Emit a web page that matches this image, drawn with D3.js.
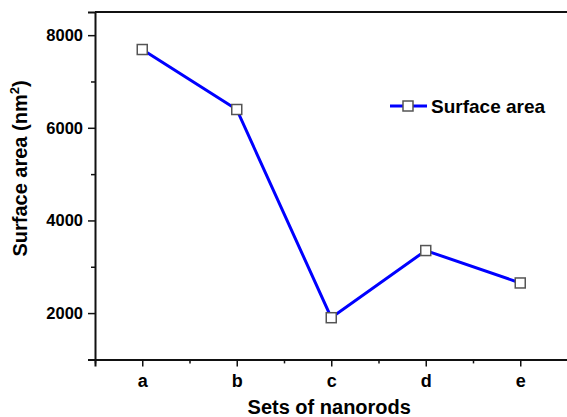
<!DOCTYPE html>
<html><head><meta charset="utf-8">
<script src="https://cdn.jsdelivr.net/npm/d3@7"></script>
<style>body{margin:0;background:#fff}svg{display:block}text{font-family:Arial,"Liberation Sans",sans-serif;font-weight:bold;fill:#000}</style>
</head><body>
<svg id="chart" width="567" height="417"></svg>
<script>
const categories = ["a","b","c","d","e"];
const surfaceArea = [7690, 6395, 1900, 3350, 2650];
const yTicks = [2000, 4000, 6000, 8000];
const yMinorTicks = [1000, 3000, 5000, 7000];
const seriesName = "Surface area";
const xTitle = "Sets of nanorods";

(function () {
const svg = d3.select("#chart");
const mL = 95, mR = 567.5, mT = 12, mB = 359.4;
const x = d3.scaleLinear().domain([0.5, 5.5]).range([mL, mR]);
const y = d3.scaleLinear().domain([1000, 8500]).range([mB, mT]);

// top frame line
svg.append("line").attr("x1", mL).attr("x2", 567).attr("y1", mT).attr("y2", mT)
  .attr("stroke", "#111").attr("stroke-width", 2);

// y axis
const yAxis = svg.append("g").attr("transform", `translate(${mL},0)`)
  .call(d3.axisLeft(y).tickValues(yTicks).tickSize(7).tickPadding(5).tickFormat(d3.format("d")));
yAxis.select(".domain").attr("stroke", "#111").attr("stroke-width", 2);
yAxis.selectAll(".tick line").attr("stroke", "#111").attr("stroke-width", 1.5);
yAxis.selectAll("text").style("font-size", "16.5px").style("font-weight", "bold").attr("fill", "#000");
const yMinor = svg.append("g").attr("transform", `translate(${mL},0)`)
  .call(d3.axisLeft(y).tickValues(yMinorTicks).tickSize(4).tickFormat(""));
yMinor.select(".domain").remove();
yMinor.selectAll(".tick line").attr("stroke", "#111").attr("stroke-width", 1.5);

// x axis
const xAxis = svg.append("g").attr("transform", `translate(0,${mB})`)
  .call(d3.axisBottom(x).tickValues(d3.range(1, categories.length + 1)).tickSize(7).tickPadding(8)
    .tickFormat(d => categories[d - 1]));
xAxis.select(".domain").attr("stroke", "#111").attr("stroke-width", 2);
xAxis.selectAll(".tick line").attr("stroke", "#111").attr("stroke-width", 1.5);
xAxis.selectAll("text").style("font-size", "18px").style("font-weight", "bold").attr("fill", "#000");
const xMinor = svg.append("g").attr("transform", `translate(0,${mB})`)
  .call(d3.axisBottom(x).tickValues(d3.range(0.5, categories.length + 1, 1)).tickSize(4).tickFormat(""));
xMinor.select(".domain").remove();
xMinor.selectAll(".tick line").attr("stroke", "#111").attr("stroke-width", 1.5);

// titles
svg.append("text").attr("x", (mL + mR) / 2 - 2).attr("y", 414).attr("text-anchor", "middle")
  .style("font-size", "20px").text(xTitle);
const yt = svg.append("text").attr("transform", `translate(27,${(80 + 257) / 2}) rotate(-90)`)
  .attr("text-anchor", "middle").style("font-size", "20px");
yt.append("tspan").text("Surface area (nm");
yt.append("tspan").attr("dy", -8).style("font-size", "13px").text("2");
yt.append("tspan").attr("dy", 8).text(")");

// data
const pts = surfaceArea.map((v, i) => [x(i + 1), y(v)]);
svg.append("path").attr("d", d3.line()(pts)).attr("fill", "none")
  .attr("stroke", "#0000ff").attr("stroke-width", 3);
const ms = 10;
svg.selectAll("rect.m").data(pts).join("rect").attr("class", "m")
  .attr("x", d => d[0] - ms / 2).attr("y", d => d[1] - ms / 2)
  .attr("width", ms).attr("height", ms)
  .attr("fill", "#fff").attr("stroke", "#555").attr("stroke-width", 1.5);

// legend
const lg = svg.append("g");
lg.append("line").attr("x1", 390).attr("x2", 427).attr("y1", 106).attr("y2", 106)
  .attr("stroke", "#0000ff").attr("stroke-width", 3);
lg.append("rect").attr("x", 408 - ms / 2).attr("y", 106 - ms / 2).attr("width", ms).attr("height", ms)
  .attr("fill", "#fff").attr("stroke", "#555").attr("stroke-width", 1.5);
lg.append("text").attr("x", 431).attr("y", 112.5).style("font-size", "19px").text(seriesName);
})();
</script>
</body></html>
